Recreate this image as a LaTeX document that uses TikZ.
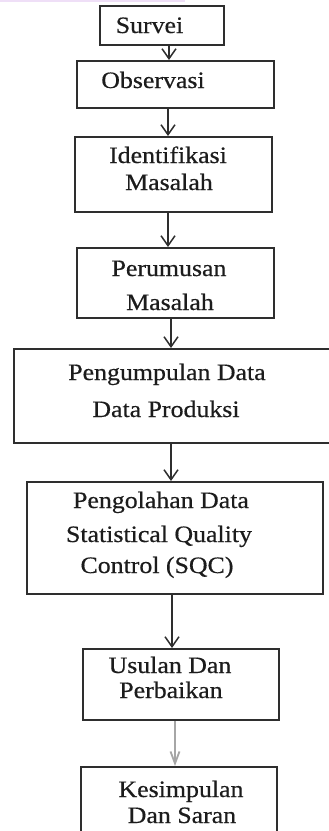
\documentclass[tikz,border=0pt]{standalone}
\usepackage{fontspec}
\setmainfont{Liberation Serif}[FakeStretch=1.1,FakeBold=0.5]
\usetikzlibrary{arrows.meta}
\definecolor{lav}{HTML}{EFDFF7}
\definecolor{boxline}{HTML}{2E2E2E}
\definecolor{txt}{HTML}{1C1C1C}
\tikzset{
  boxnode/.style={draw=boxline, line width=2pt, rectangle, inner sep=0pt},
  lbl/.style={anchor=base, inner sep=0pt, text=txt, font=\fontsize{23.5}{28}\selectfont},
  arr/.style={draw=boxline, line width=1.5pt, -{Straight Barb[length=10pt,width=14pt,line width=1.5pt]}},
  grayarr/.style={draw=gray!70, line width=1.8pt, -{Straight Barb[length=12pt,width=9pt,line width=1.8pt]}}
}
\begin{document}
\begin{tikzpicture}[x=1pt,y=-1pt]
\useasboundingbox (0,0) rectangle (329,831);
\clip (0,0) rectangle (329,831);
\fill[lav] (0,0) rectangle (185,1.8);
% boxes
\node[boxnode, minimum width=124pt, minimum height=39pt] (survei) at (162,25.5) {};
\node[boxnode, minimum width=197pt, minimum height=47pt] (obs) at (175.5,84.5) {};
\node[boxnode, minimum width=197pt, minimum height=75pt] (ident) at (173.5,174.5) {};
\node[boxnode, minimum width=197pt, minimum height=70pt] (perum) at (175.5,283) {};
\node[boxnode, minimum width=330pt, minimum height=94pt] (pengump) at (179,396) {};
\node[boxnode, minimum width=296pt, minimum height=112pt] (pengol) at (175,538) {};
\node[boxnode, minimum width=196pt, minimum height=71pt] (usulan) at (181,684.5) {};
\node[boxnode, minimum width=196pt, minimum height=90pt] (kesimp) at (179,812) {};
% texts
\node[lbl] (t1) at (149.5,33) {Survei};
\node[lbl] (t2) at (153,88) {Observasi};
\node[lbl] (t3a) at (168,163) {Identifikasi};
\node[lbl] (t3b) at (169,190) {Masalah};
\node[lbl] (t4a) at (169,276) {Perumusan};
\node[lbl] (t4b) at (170,310) {Masalah};
\node[lbl] (t5a) at (167,380) {Pengumpulan Data};
\node[lbl] (t5b) at (166,417) {Data Produksi};
\node[lbl] (t6a) at (161,508) {Pengolahan Data};
\node[lbl] (t6b) at (159,542) {Statistical Quality};
\node[lbl] (t6c) at (157,573) {Control (SQC)};
\node[lbl] (t7a) at (170,673) {Usulan Dan};
\node[lbl] (t7b) at (171,698) {Perbaikan};
\node[lbl] (t8a) at (181,797) {Kesimpulan};
\node[lbl] (t8b) at (182,823) {Dan Saran};
% arrows
\draw[arr] (survei.south -| 169,0) -- (obs.north -| 169,0);
\draw[arr] (obs.south -| 168,0) -- (ident.north -| 168,0);
\draw[arr] (ident.south -| 168,0) -- (perum.north -| 168,0);
\draw[arr] (perum.south -| 171,0) -- (pengump.north -| 171,0);
\draw[arr] (pengump.south -| 171,0) -- (pengol.north -| 171,0);
\draw[arr] (pengol.south -| 172,0) -- (usulan.north -| 172,0);
\draw[grayarr] (usulan.south -| 175,0) -- (kesimp.north -| 175,0);
\end{tikzpicture}
\end{document}
